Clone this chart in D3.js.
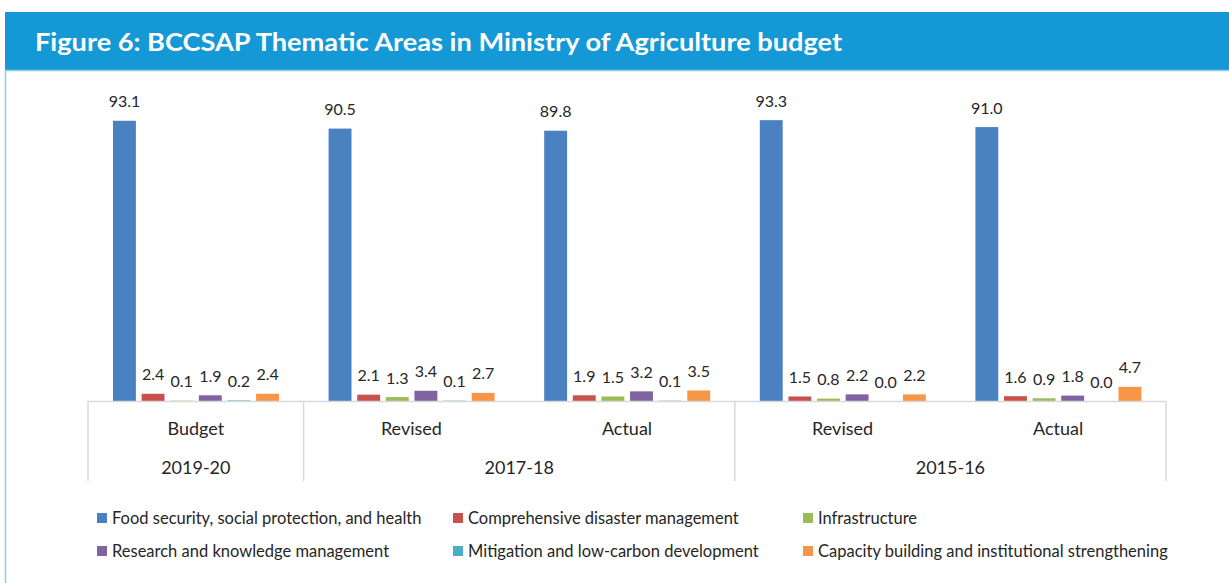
<!DOCTYPE html>
<html>
<head>
<meta charset="utf-8">
<script src="https://cdn.jsdelivr.net/npm/d3@7"></script>
<style>
  body { margin: 0; background: #fff; }
  svg { display: block; font-family: Lato, "Open Sans", sans-serif; }
</style>
</head>
<body>
<div id="chart"></div>
<script>
// Chart data
const categories = ['Budget', 'Revised', 'Actual', 'Revised', 'Actual'];
const categoryKeys = ['c0', 'c1', 'c2', 'c3', 'c4'];
const yearGroups = ['2019-20', '2017-18', '2015-16'];
const yearSpans = [[0, 1], [1, 3], [3, 5]];   // category index ranges

const seriesNames = [
    'Food security, social protection, and health',
    'Comprehensive disaster management',
    'Infrastructure',
    'Research and knowledge management',
    'Mitigation and low-carbon development',
    'Capacity building and institutional strengthening'
];
const foodSecurity  = [93.1, 90.5, 89.8, 93.3, 91.0];
const disaster      = [2.4, 2.1, 1.9, 1.5, 1.6];
const infrastructure = [0.1, 1.3, 1.5, 0.8, 0.9];
const research      = [1.9, 3.4, 3.2, 2.2, 1.8];
const mitigation    = [0.2, 0.1, 0.1, 0.0, 0.0];
const capacity      = [2.4, 2.7, 3.5, 2.2, 4.7];
const seriesValues = [foodSecurity, disaster, infrastructure, research, mitigation, capacity];
const colors = ['#4a81c0', '#c9514d', '#9bbb59', '#8064a2', '#4bacc6', '#f79646'];

const W = 1229, H = 583;
const svg = d3.select('#chart').append('svg')
    .attr('width', W)
    .attr('height', H);

// Header bar
svg.append('rect')
    .attr('x', 5).attr('y', 12)
    .attr('width', W - 5).attr('height', 58)
    .attr('fill', '#1598d6');
svg.append('line')
    .attr('x1', 5).attr('x2', W).attr('y1', 70.5).attr('y2', 70.5)
    .attr('stroke', '#8fcdeb').attr('stroke-width', 1.5);
svg.append('line')
    .attr('x1', 5.5).attr('x2', 5.5).attr('y1', 70).attr('y2', H)
    .attr('stroke', '#8fcdeb').attr('stroke-width', 1.5);
svg.append('text')
    .attr('x', 35).attr('y', 51)
    .attr('fill', '#fff')
    .style('font-size', '25px')
    .style('font-weight', 700)
    .attr('textLength', 807)
    .attr('lengthAdjust', 'spacingAndGlyphs')
    .text('Figure 6: BCCSAP Thematic Areas in Ministry of Agriculture budget');

// Scales
const plotLeft = 88, plotRight = 1166, baseY = 401;
const x0 = d3.scaleBand()
    .domain(categoryKeys)
    .range([plotLeft, plotRight]);
const x1 = d3.scaleBand()
    .domain(d3.range(seriesNames.length))
    .range([25, 191])
    .paddingInner(0.2);
const y = d3.scaleLinear()
    .domain([0, 100])
    .range([baseY, 100]);

const g = svg.append('g');

// Bars
seriesValues.forEach((vals, s) => {
    g.selectAll('.bar-' + s)
        .data(vals)
        .enter()
        .append('rect')
        .attr('class', 'bar-' + s)
        .attr('x', (d, i) => x0(categoryKeys[i]) + x1(s))
        .attr('y', d => y(d))
        .attr('width', x1.bandwidth())
        .attr('height', d => baseY - y(d))
        .attr('fill', colors[s]);

    g.selectAll('.lbl-' + s)
        .data(vals)
        .enter()
        .append('text')
        .attr('x', (d, i) => x0(categoryKeys[i]) + x1(s) + x1.bandwidth() / 2)
        .attr('y', d => y(d) - 19)
        .attr('dy', '0.35em')
        .attr('text-anchor', 'middle')
        .style('font-size', '16px')
        .style('fill', '#262626')
        .text(d => d.toFixed(1));
});

// Axis box (multi-level category axis)
const axisColor = '#d9d9d9';
g.append('line')
    .attr('x1', plotLeft).attr('x2', plotRight)
    .attr('y1', baseY + 0.5).attr('y2', baseY + 0.5)
    .attr('stroke', axisColor).attr('stroke-width', 1.5);

const boundaries = [0, 1, 3, 5];
boundaries.forEach(b => {
    const xb = b < categoryKeys.length ? x0(categoryKeys[b]) : plotRight;
    g.append('line')
        .attr('x1', xb).attr('x2', xb)
        .attr('y1', baseY).attr('y2', 481)
        .attr('stroke', axisColor).attr('stroke-width', 1.5);
});

g.selectAll('.cat-label')
    .data(categories)
    .enter()
    .append('text')
    .attr('class', 'cat-label')
    .attr('x', (d, i) => x0(categoryKeys[i]) + x0.bandwidth() / 2)
    .attr('y', 429)
    .attr('dy', '0.35em')
    .attr('text-anchor', 'middle')
    .style('font-size', '18px')
    .style('fill', '#262626')
    .text(d => d);

g.selectAll('.year-label')
    .data(yearGroups)
    .enter()
    .append('text')
    .attr('class', 'year-label')
    .attr('x', (d, i) => {
        const [a, b] = yearSpans[i];
        const left = x0(categoryKeys[a]);
        const right = b < categoryKeys.length ? x0(categoryKeys[b]) : plotRight;
        return (left + right) / 2;
    })
    .attr('y', 468)
    .attr('dy', '0.35em')
    .attr('text-anchor', 'middle')
    .style('font-size', '18px')
    .style('fill', '#262626')
    .text(d => d);

// Legend
const legendCols = [97, 453, 803];
const legendRows = [518, 551];
seriesNames.forEach((name, i) => {
    const lx = legendCols[i % 3];
    const ly = legendRows[Math.floor(i / 3)];
    svg.append('rect')
        .attr('x', lx).attr('y', ly - 5)
        .attr('width', 10).attr('height', 10)
        .attr('fill', colors[i]);
    svg.append('text')
        .attr('x', lx + 15).attr('y', ly)
        .attr('dy', '0.35em')
        .style('font-size', '16.5px')
        .style('fill', '#262626')
        .text(name);
});
</script>
</body>
</html>
